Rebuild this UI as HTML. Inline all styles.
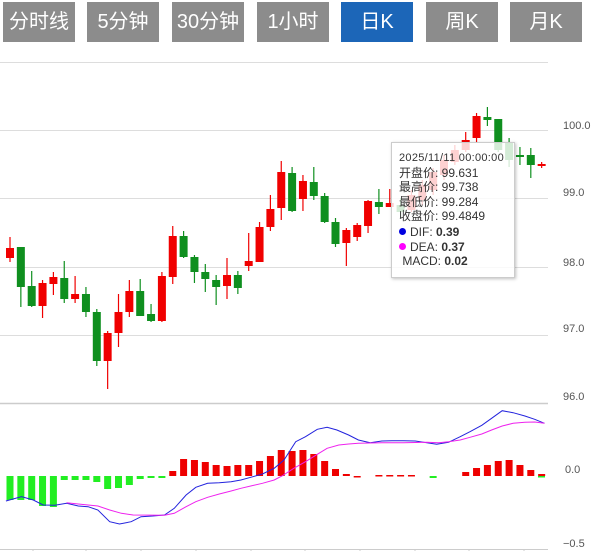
<!DOCTYPE html>
<html><head><meta charset="utf-8"><style>
body{margin:0;width:611px;height:551px;background:#fff;overflow:hidden;font-family:"Liberation Sans","Noto Sans CJK SC",sans-serif;position:relative}
.b{position:absolute;top:2px;height:40px;width:72px;background:#8c8c8c;color:#fff;font-size:20px;line-height:40px;text-align:center}
.b.a{background:#1c66b8}
.tt{position:absolute;left:391px;top:142px;width:124px;height:136px;background:rgba(255,255,255,0.82);border:1px solid #ccc;box-shadow:1px 1px 3px rgba(0,0,0,0.25);font-size:12px;color:#333;box-sizing:border-box;padding:8px 0 0 7px;line-height:14.6px}
.tt .d{font-size:11px;letter-spacing:0.3px}
.dot{display:inline-block;width:7px;height:7px;border-radius:50%;margin-right:4px;vertical-align:1px}
</style></head><body>
<div class="b" style="left:3px">分时线</div>
<div class="b" style="left:87px">5分钟</div>
<div class="b" style="left:172px">30分钟</div>
<div class="b" style="left:257px">1小时</div>
<div class="b a" style="left:341px">日K</div>
<div class="b" style="left:426px">周K</div>
<div class="b" style="left:510px">月K</div>
<svg id="s" width="611" height="551" style="position:absolute;left:0;top:0" font-family="Liberation Sans, sans-serif" font-size="11" fill="#555">
<g stroke="#ddd" stroke-width="1">
<line x1="0" x2="548" y1="62.5" y2="62.5"/><line x1="0" x2="548" y1="130.5" y2="130.5"/><line x1="0" x2="548" y1="198.5" y2="198.5"/><line x1="0" x2="548" y1="267.5" y2="267.5"/><line x1="0" x2="548" y1="335.5" y2="335.5"/><line x1="0" x2="548" y1="403.5" y2="403.5" stroke="#ccc" stroke-width="1.5"/><line x1="0" x2="548" y1="549.5" y2="549.5" stroke="#ccc"/>
</g>
<g stroke="#ccc" id="ticks"></g>
<text x="563" y="129">100.0</text><text x="563" y="196">99.0</text><text x="563" y="266">98.0</text><text x="563" y="332">97.0</text><text x="563" y="400">96.0</text><text x="565" y="473">0.0</text><text x="563" y="547">−0.5</text>
<g id="c"></g>
</svg>
<div class="tt"><div class="d">2025/11/11 00:00:00</div>
<div>开盘价: 99.631</div><div>最高价: 99.738</div><div>最低价: 99.284</div><div>收盘价: 99.4849</div>
<div style="margin-top:1px"><span class="dot" style="background:#0000e0"></span>DIF: <b>0.39</b></div>
<div><span class="dot" style="background:#f0f"></span>DEA: <b>0.37</b></div>
<div>&nbsp;MACD: <b>0.02</b></div></div>
<script>
var g=document.getElementById('c'),h='';
// [color, bodyTop, bodyBot, wickTop, wickBot]
var C=[['r',248,258,237,262],['g',247,287,247,307],['g',286,306,271,307],['r',283,306,280,318],['r',277,284,272,295],['g',278,299,261,303],['r',294,299,276,303],['g',294,312,287,317],['g',312,361,309,366],['r',333,361,331,389],
['r',312,333,294,347],['r',291,312,280,317],['g',291,316,279,316],['g',314,321,304,322],['r',276,321,272,322],['r',236,277,226,284],['g',236,257,231,258],['g',257,272,255,283],['g',272,279,264,292],['g',280,287,275,305],
['r',275,286,258,299],['g',275,288,271,294],['r',261,266,233,271],['r',227,262,222,262],['r',209,227,195,231],['r',172,208,161,220],['g',173,211,167,212],['r',181,199,175,211],['g',182,196,167,200],['g',196,222,193,223],
['g',222,244,218,247],['r',230,243,228,266],['r',225,237,223,241],['r',201,226,200,233],['g',202,207,189,214],['r',203,207,189,207],['g',205,212,198,218],['r',195,210,190,212],['r',185,200,180,205],['r',172,190,168,195],
['r',160,175,155,180],['r',150,162,145,165],['r',140,150,132,152],['r',116,138,113,142],['g',117,120,107,126],['g',119,150,119,152],['g',143,160,138,167],['g',155,157,147,165],['g',155,165,148,178],['r',164,166,162,168]];
C.forEach(function(c,i){var x=10+10.85*i,col=c[0]=='r'?'#f00000':'#0f8f1f';
h+='<line x1="'+x+'" x2="'+x+'" y1="'+c[3]+'" y2="'+c[4]+'" stroke="'+col+'" stroke-width="1.2"/>';
h+='<rect x="'+(x-4)+'" y="'+c[1]+'" width="8" height="'+Math.max(2,c[2]-c[1])+'" fill="'+col+'"/>';});
var M=[500,500,500,506,507,480,480,480,482,489,488,485,479,478,478,471,459,460,462,465,466,465,465,461,456,450,451,450,454,461,469,474,476,476,475,475,475,475,477,477,478,477,477,472,468,465,461,460,465,470,474,477];
var sg=[1,1,1,1,1,1,1,1,1,1,1,1,1,1,1,0,0,0,0,0,0,0,0,0,0,0,0,0,0,0,0,0,0,0,0,0,0,0,1,1,1,1,1,0,0,0,0,0,0,0,0,1];
var mc=[500,500,500,506,507,480,480,480,482,489,488,485,479,478,478,471,459,460,462,465,466,465,465,461,456,450,451,450,454,461,469,474,476,476,475,475,475,475.5,476,477,478,477,472,468,465,461,460,465,470,474,477];
var red=[15,16,17,18,19,20,21,22,23,24,25,26,27,28,29,30,31,32,34,35,36,37,42,43,44,45,46,47,48,49];
var grn={0:1,1:1,2:1,3:1,4:1,5:1,6:1,7:1,8:1,9:1,10:1,11:1,12:1,13:1,14:1,39:1,50:1};
var vals={0:500,1:500,2:500,3:506,4:507,5:480,6:480,7:480,8:482,9:489,10:488,11:485,12:479,13:478,14:478,15:471,16:459,17:460,18:462,19:465,20:466,21:465,22:465,23:461,24:456,25:450,26:451,27:450,28:454,29:461,30:469,31:474,32:476,34:475,35:475,36:475,37:475,39:478,42:472,43:468,44:465,45:461,46:460,47:465,48:470,49:474};
for(var k in vals){var i=+k,x=10+10.85*i,v=vals[k],neg=i<15||i==39;
var col=neg?'#22ee22':'#ee0000';var y0=Math.min(v,476),hh=Math.max(1.5,Math.abs(v-476));
h+='<rect x="'+(x-3.5)+'" y="'+(neg?476:y0)+'" width="7" height="'+hh+'" fill="'+col+'"/>';}
h+='<rect x="538" y="476" width="7" height="1.5" fill="#22ee22"/>';
function pl(a,col){var p=[];for(var i=0;i<a.length;i+=2)p.push((a[i]/2.553).toFixed(1)+','+(400+a[i+1]/3).toFixed(1));return '<polyline fill="none" stroke="'+col+'" stroke-width="1" points="'+p.join(' ')+'"/>';}
h+=pl([15,303,55,290,85,300,110,315,140,316,170,310,200,318,225,320,250,330,280,365,305,372,335,365,360,350,390,348,420,345,445,325,475,285,500,262,530,250,560,248,590,245,615,240,640,232,670,222,700,205,725,180,755,125,780,110,810,88,835,82,860,90,890,105,915,120,945,128,975,123,1000,122,1030,122,1060,123,1090,128,1115,133,1145,127,1175,110,1200,95,1230,76,1255,55,1282,32,1310,38,1340,48,1365,58,1390,70],'#2222dd');
h+=pl([170,308,200,312,250,318,280,330,310,340,340,345,420,346,445,340,475,320,500,305,530,292,560,282,590,273,615,265,640,258,670,250,700,240,720,228,750,205,780,185,810,163,835,145,865,135,890,132,915,130,975,128,1030,128,1090,127,1120,128,1145,125,1175,120,1200,112,1230,102,1255,90,1282,78,1310,70,1340,67,1365,66,1390,70],'#ee22ee');
g.innerHTML=h;
var t='';[33,86,141,196,251,305,360,415,469,524].forEach(function(x){t+='<line x1="'+x+'" x2="'+x+'" y1="549" y2="553"/>';});
document.getElementById('ticks').innerHTML=t;
</script>
</body></html>
